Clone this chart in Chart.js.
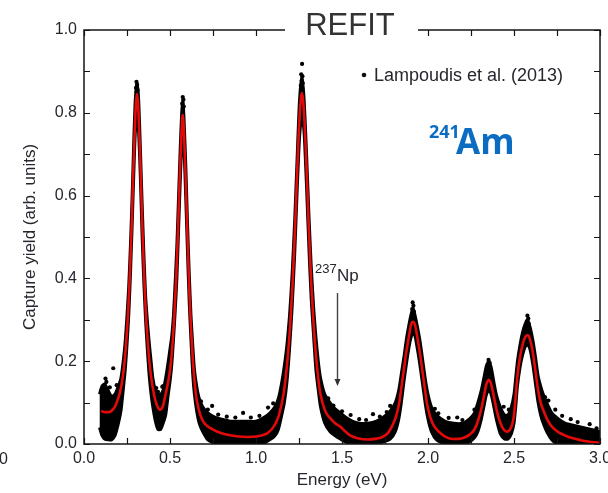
<!DOCTYPE html>
<html>
<head>
<meta charset="utf-8">
<script src="https://cdn.jsdelivr.net/npm/chart.js@4.4.1/dist/chart.umd.min.js"></script>
<style>
html,body{margin:0;padding:0;background:#fff;}
canvas{display:block;}
</style>
</head>
<body>
<canvas id="c" width="608" height="493"></canvas>
<script>
// ---- Fitted curve (REFIT) ----
const fitEnergy = [
 0.10,0.12,0.14,0.16,0.18,0.19,0.208,0.218,0.228,0.238,
 0.248,0.258,0.268,0.278,0.288,0.298,0.308,0.318,0.328,0.338,
 0.348,0.358,0.368,0.378,0.388,0.40,0.415,0.43,0.44,0.45,
 0.46,0.476,0.496,0.506,0.516,0.526,0.536,0.546,0.556,0.566,
 0.574,0.582,0.592,0.602,0.612,0.622,0.632,0.642,0.652,0.665,
 0.68,0.70,0.75,0.80,0.85,0.90,0.95,1.00,1.05,1.07,
 1.105,1.132,1.159,1.1725,1.186,1.1995,1.213,1.2265,1.24,1.2535,
 1.267,1.2805,1.294,1.3075,1.321,1.3345,1.348,1.3615,1.375,1.402,
 1.43,1.46,1.49,1.52,1.55,1.59,1.65,1.70,1.74,1.77,
 1.793,1.813,1.833,1.843,1.853,1.863,1.873,1.883,1.893,1.903,
 1.913,1.923,1.933,1.943,1.953,1.963,1.973,1.983,1.993,2.013,
 2.033,2.063,2.10,2.145,2.20,2.24,2.27,2.29,2.31,2.325,
 2.34,2.355,2.37,2.385,2.40,2.415,2.43,2.445,2.46,2.475,
 2.49,2.50,2.51,2.52,2.535,2.55,2.565,2.58,2.595,2.61,
 2.625,2.64,2.655,2.67,2.69,2.72,2.76,2.80,2.85,2.90,
 2.95,3.00
];
const fitYield = [
 0.080,0.077,0.077,0.080,0.090,0.100,0.123,0.143,0.170,0.208,
 0.262,0.330,0.424,0.540,0.677,0.790,0.845,0.790,0.677,0.540,
 0.424,0.330,0.262,0.208,0.170,0.135,0.105,0.088,0.083,0.085,
 0.093,0.123,0.166,0.200,0.250,0.316,0.400,0.510,0.638,0.745,
 0.795,0.745,0.630,0.495,0.375,0.280,0.208,0.155,0.115,0.087,
 0.066,0.050,0.035,0.026,0.021,0.018,0.017,0.018,0.023,0.027,
 0.043,0.068,0.118,0.160,0.217,0.292,0.390,0.516,0.665,0.790,
 0.848,0.790,0.665,0.516,0.390,0.292,0.217,0.160,0.120,0.080,
 0.063,0.050,0.042,0.030,0.020,0.014,0.011,0.013,0.018,0.028,
 0.045,0.065,0.100,0.130,0.160,0.190,0.220,0.245,0.270,0.290,
 0.295,0.290,0.270,0.245,0.220,0.190,0.160,0.130,0.100,0.065,
 0.045,0.030,0.018,0.012,0.014,0.022,0.035,0.055,0.085,0.115,
 0.145,0.155,0.140,0.110,0.080,0.058,0.042,0.033,0.030,0.034,
 0.048,0.070,0.115,0.165,0.210,0.240,0.258,0.263,0.250,0.220,
 0.175,0.130,0.100,0.082,0.062,0.042,0.028,0.020,0.013,0.008,
 0.005,0.003
];

// ---- Dense measured data (Lampoudis et al. 2013): lower / upper extent of the point cloud ----
const cloudEnergy = [
 0.09,0.105,0.12,0.14,0.16,0.18,0.20,0.215,0.228,0.24,
 0.25,0.26,0.27,0.28,0.29,0.298,0.308,0.318,0.328,0.338,
 0.348,0.358,0.368,0.378,0.39,0.40,0.415,0.43,0.445,0.46,
 0.475,0.49,0.50,0.51,0.52,0.53,0.54,0.55,0.56,0.568,
 0.575,0.582,0.592,0.602,0.612,0.622,0.632,0.642,0.655,0.67,
 0.69,0.72,0.76,0.80,0.85,0.90,0.95,1.00,1.05,1.08,
 1.11,1.13,1.15,1.165,1.18,1.195,1.21,1.225,1.24,1.253,
 1.267,1.28,1.294,1.308,1.321,1.335,1.348,1.362,1.375,1.40,
 1.43,1.46,1.49,1.52,1.56,1.60,1.65,1.70,1.74,1.78,
 1.81,1.83,1.845,1.86,1.875,1.89,1.90,1.913,1.925,1.94,
 1.955,1.97,1.985,2.00,2.02,2.05,2.10,2.15,2.20,2.24,
 2.27,2.29,2.31,2.325,2.34,2.355,2.37,2.385,2.40,2.42,
 2.445,2.465,2.485,2.50,2.51,2.52,2.535,2.55,2.565,2.58,
 2.595,2.61,2.625,2.64,2.655,2.67,2.69,2.72,2.76,2.80,
 2.85,2.90,2.95,3.00
];
const cloudLow = [
 0.040,0.020,0.012,0.010,0.010,0.020,0.050,0.080,0.130,0.180,
 0.240,0.310,0.410,0.530,0.660,0.750,0.800,0.750,0.640,0.500,
 0.390,0.300,0.230,0.170,0.120,0.090,0.055,0.035,0.035,0.050,
 0.070,0.120,0.150,0.190,0.250,0.320,0.400,0.520,0.640,0.720,
 0.760,0.710,0.590,0.460,0.340,0.250,0.170,0.120,0.080,0.050,
 0.030,0.010,0.002,0.000,0.000,0.000,0.000,0.000,0.003,0.010,
 0.020,0.035,0.070,0.100,0.150,0.230,0.330,0.460,0.620,0.740,
 0.800,0.750,0.620,0.470,0.350,0.260,0.180,0.130,0.090,0.050,
 0.030,0.020,0.012,0.005,0.000,0.000,0.000,0.000,0.005,0.012,
 0.030,0.060,0.100,0.150,0.195,0.235,0.255,0.270,0.260,0.225,
 0.185,0.140,0.095,0.060,0.030,0.010,0.000,0.000,0.000,0.005,
 0.015,0.030,0.060,0.090,0.120,0.130,0.115,0.085,0.055,0.025,
 0.012,0.012,0.025,0.050,0.090,0.140,0.185,0.215,0.235,0.240,
 0.225,0.190,0.145,0.100,0.070,0.050,0.030,0.010,0.000,0.000,
 0.000,0.000,0.000,0.000
];
const cloudHigh = [
 0.120,0.140,0.145,0.130,0.115,0.120,0.140,0.160,0.200,0.250,
 0.310,0.380,0.480,0.600,0.740,0.830,0.875,0.830,0.710,0.580,
 0.460,0.360,0.300,0.250,0.200,0.160,0.130,0.120,0.120,0.130,
 0.160,0.200,0.230,0.260,0.310,0.390,0.480,0.600,0.720,0.800,
 0.830,0.780,0.670,0.530,0.410,0.310,0.240,0.180,0.140,0.110,
 0.090,0.075,0.065,0.060,0.055,0.055,0.055,0.055,0.065,0.075,
 0.090,0.110,0.150,0.190,0.240,0.310,0.410,0.540,0.700,0.830,
 0.890,0.830,0.700,0.550,0.430,0.330,0.260,0.200,0.160,0.120,
 0.100,0.085,0.075,0.065,0.055,0.050,0.050,0.055,0.065,0.080,
 0.100,0.130,0.170,0.210,0.255,0.290,0.310,0.330,0.310,0.280,
 0.245,0.200,0.155,0.120,0.090,0.070,0.055,0.050,0.050,0.060,
 0.075,0.100,0.130,0.160,0.190,0.200,0.180,0.145,0.115,0.090,
 0.070,0.070,0.090,0.120,0.160,0.200,0.240,0.270,0.290,0.300,
 0.280,0.250,0.210,0.165,0.140,0.120,0.100,0.075,0.060,0.050,
 0.045,0.040,0.035,0.030
];

// ---- Isolated measured points (peak tips, cloud edges and scattered points) ----
const pointEnergy = [
 0.305,0.309,0.302,0.312,0.306,
 0.574,0.578,0.571,0.580,
 1.268,1.263,1.270,1.266,1.272,1.261,1.269,
 1.911,1.915,1.908,1.918,
 2.352,2.358,2.361,2.348,
 2.578,2.583,2.574,2.586,
 0.170,0.125,0.420,0.455,
 0.745,0.925,1.070,
 1.420,1.550,1.680,1.780,
 2.040,2.170,2.440,
 2.700,2.830,2.940,
 0.100,0.130,0.150,0.190,0.430,0.460,
 0.680,0.720,0.780,0.830,0.880,0.970,1.020,1.100,
 1.450,1.500,1.600,1.640,1.720,1.760,
 2.060,2.120,2.200,2.270,2.470,2.680,2.740,2.780,2.870,2.980
];
const pointYield = [
 0.875,0.868,0.860,0.855,0.850,
 0.838,0.832,0.822,0.815,
 0.918,0.893,0.888,0.878,0.872,0.866,0.858,
 0.342,0.334,0.326,0.320,
 0.203,0.196,0.187,0.180,
 0.310,0.303,0.296,0.290,
 0.183,0.158,0.135,0.138,
 0.092,0.075,0.088,
 0.110,0.070,0.072,0.092,
 0.085,0.064,0.090,
 0.105,0.060,0.048,
 0.128,0.150,0.137,0.142,0.126,0.140,
 0.103,0.083,0.071,0.066,0.064,0.064,0.068,0.098,
 0.093,0.079,0.060,0.058,0.066,0.077,
 0.074,0.063,0.058,0.083,0.083,0.113,0.083,0.068,0.053,0.038
];

// ---- Axes ----
const xTicks = [0,0.25,0.5,0.75,1,1.25,1.5,1.75,2,2.25,2.5,2.75,3];
const yTicks = [0,0.1,0.2,0.3,0.4,0.5,0.6,0.7,0.8,0.9,1.0];
const xLabelEvery = 0.5, yLabelEvery = 0.2;

const pts = (xs, ys) => xs.map((x, i) => ({x: x, y: ys[i]}));

const FONT = "'Liberation Sans', Arial, sans-serif";
const TXT = '#26262e';

const deco = {
  id: 'deco',
  afterDraw(chart) {
    const {ctx, chartArea: a, scales: {x, y}} = chart;
    ctx.save();
    // frame
    ctx.strokeStyle = '#151515';
    ctx.lineWidth = 1.5;
    ctx.strokeRect(a.left, a.top, a.right - a.left, a.bottom - a.top);
    // inward ticks on all sides
    ctx.lineWidth = 1.2;
    ctx.beginPath();
    xTicks.forEach(v => {
      const px = Math.round(x.getPixelForValue(v)) + 0.5;
      ctx.moveTo(px, a.bottom); ctx.lineTo(px, a.bottom - 6);
      ctx.moveTo(px, a.top); ctx.lineTo(px, a.top + 6);
    });
    yTicks.forEach(v => {
      const py = Math.round(y.getPixelForValue(v)) + 0.5;
      ctx.moveTo(a.left, py); ctx.lineTo(a.left + 6, py);
      ctx.moveTo(a.right, py); ctx.lineTo(a.right - 6, py);
    });
    ctx.stroke();

    // title REFIT on white box interrupting the top frame
    ctx.fillStyle = '#fff';
    ctx.fillRect(285, 4, 133, 36);
    ctx.fillStyle = '#333';
    ctx.font = "31px 'Liberation Sans', Arial, sans-serif";
    ctx.textAlign = 'center';
    ctx.textBaseline = 'alphabetic';
    ctx.fillText('REFIT', 350, 35);

    // legend
    ctx.fillStyle = '#111';
    ctx.beginPath(); ctx.arc(364, 75, 2.3, 0, Math.PI * 2); ctx.fill();
    ctx.fillStyle = TXT;
    ctx.textAlign = 'left';
    ctx.font = "18px " + FONT;
    ctx.fillText('Lampoudis et al. (2013)', 374, 81);

    // 241Am
    ctx.fillStyle = '#0b6cc2';
    ctx.font = "bold 18px 'Open Sans', sans-serif";
    ctx.fillText('241', 429, 138);
    ctx.font = "bold 35px 'Open Sans', sans-serif";
    ctx.fillText('Am', 456, 154);

    // 237Np annotation + arrow
    ctx.fillStyle = TXT;
    ctx.font = "13px " + FONT;
    ctx.fillText('237', 315, 273);
    ctx.font = "17px " + FONT;
    ctx.fillText('Np', 337, 281);
    ctx.strokeStyle = '#444';
    ctx.lineWidth = 1.4;
    ctx.beginPath(); ctx.moveTo(337.5, 293); ctx.lineTo(337.5, 383); ctx.stroke();
    ctx.fillStyle = '#333';
    ctx.beginPath(); ctx.moveTo(334.5, 379); ctx.lineTo(340.5, 379); ctx.lineTo(337.5, 386); ctx.closePath(); ctx.fill();

    // clipped label from neighbouring panel
    ctx.fillStyle = TXT;
    ctx.font = "16px " + FONT;
    ctx.textAlign = 'right';
    ctx.fillText('0', 8, 464);
    ctx.restore();
  }
};

new Chart(document.getElementById('c'), {
  type: 'scatter',
  data: {
    datasets: [
      {
        label: 'cloud-high',
        data: pts(cloudEnergy, cloudHigh),
        showLine: true, fill: '+1',
        borderColor: '#000', backgroundColor: '#000',
        borderWidth: 3, pointRadius: 0, tension: 0.2, order: 3
      },
      {
        label: 'cloud-low',
        data: pts(cloudEnergy, cloudLow),
        showLine: true, fill: false,
        borderColor: '#000', backgroundColor: '#000',
        borderWidth: 3, pointRadius: 0, tension: 0.2, order: 3
      },
      {
        label: 'Lampoudis et al. (2013)',
        data: pts(pointEnergy, pointYield),
        showLine: false,
        pointRadius: 2.1, pointBackgroundColor: '#000', pointBorderWidth: 0,
        order: 2
      },
      {
        label: 'REFIT',
        data: pts(fitEnergy, fitYield),
        showLine: true, fill: false,
        borderColor: '#e30a0a', borderWidth: 2.6,
        pointRadius: 0, cubicInterpolationMode: 'monotone', order: 1
      }
    ]
  },
  options: {
    responsive: false,
    animation: false,
    devicePixelRatio: 1,
    layout: {padding: {top: 30, right: 8, bottom: 0, left: 0}},
    plugins: {legend: {display: false}, title: {display: false}, tooltip: {enabled: false}},
    scales: {
      x: {
        type: 'linear', min: 0, max: 3,
        afterBuildTicks: s => { s.ticks = xTicks.map(v => ({value: v})); },
        ticks: {
          autoSkip: false, maxRotation: 0, padding: 5,
          color: TXT, font: {family: FONT, size: 16},
          callback: v => (Math.abs(v / xLabelEvery - Math.round(v / xLabelEvery)) < 1e-6 ? v.toFixed(1) : '')
        },
        grid: {display: false, drawTicks: false},
        border: {display: false},
        title: {display: true, text: 'Energy (eV)', color: TXT, font: {family: FONT, size: 17}, padding: {top: 2, bottom: 2}},
        afterFit: s => { s.height = 49; s.paddingLeft = 0; s.paddingRight = 0; }
      },
      y: {
        type: 'linear', min: 0, max: 1,
        afterBuildTicks: s => { s.ticks = yTicks.map(v => ({value: v})); },
        ticks: {
          autoSkip: false, padding: 7,
          color: TXT, font: {family: FONT, size: 16},
          callback: v => (Math.abs(v / yLabelEvery - Math.round(v / yLabelEvery)) < 1e-6 ? v.toFixed(1) : '')
        },
        grid: {display: false, drawTicks: false},
        border: {display: false},
        title: {display: true, text: 'Capture yield (arb. units)', color: TXT, font: {family: FONT, size: 17}, padding: {top: 20, bottom: 0}},
        afterFit: s => { s.width = 84; s.paddingTop = 0; s.paddingBottom = 0; }
      }
    }
  },
  plugins: [deco]
});
</script>
</body>
</html>
